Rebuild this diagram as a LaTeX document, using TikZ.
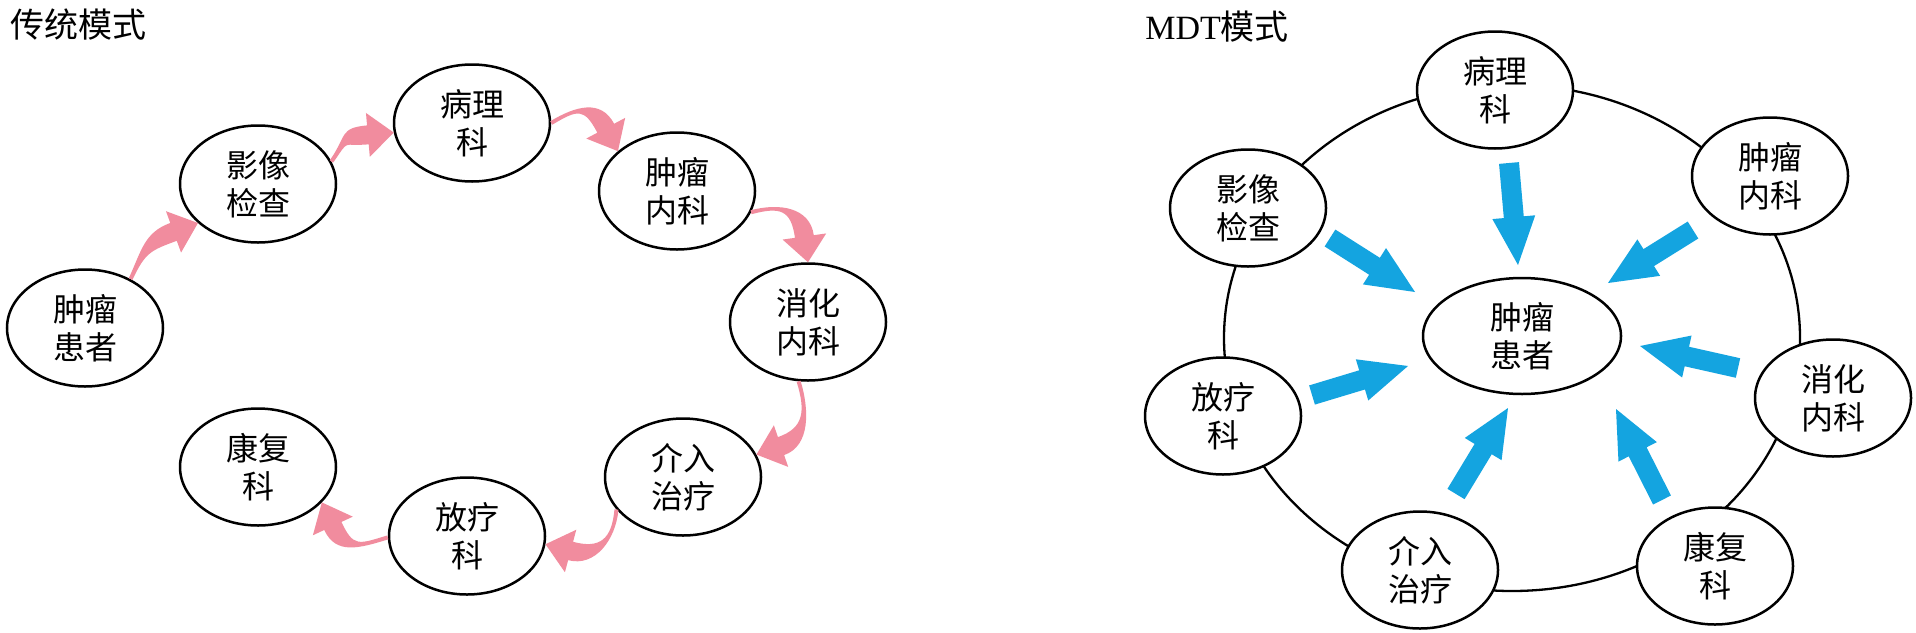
\documentclass[tikz,border=0pt]{standalone}
\usepackage{fontspec}
\setmainfont{Liberation Serif}
\newfontfamily\cjk{Noto Sans CJK SC}
\usetikzlibrary{calc,shapes.geometric}
\definecolor{pinkc}{RGB}{241,140,158}
\definecolor{bluec}{RGB}{20,164,224}
% tapered curved arrow: tail, tip, tail angle, head angle
\newcommand\pinkarrow[4]{%
  \coordinate (pb) at ($(#2)+(#4+180:13pt)$);
  \fill[pinkc] ($(#1)+(#3+90:1pt)$) .. controls ($(#1)+(#3:15pt)+(#3+90:1pt)$) and ($(pb)+(#4+180:14pt)+(#4+90:4.75pt)$) .. ($(pb)+(#4+90:4.75pt)$)
    -- ($(pb)+(#4+90:11pt)$) -- (#2) -- ($(pb)+(#4-90:11pt)$) -- ($(pb)+(#4-90:4.75pt)$)
    .. controls ($(pb)+(#4+180:14pt)+(#4-90:4.75pt)$) and ($(#1)+(#3:15pt)+(#3-90:1pt)$) .. ($(#1)+(#3-90:1pt)$) -- cycle;
}
% block arrow: tail, tip
\newcommand\bluearrow[2]{%
  \coordinate (bb) at ($(#2)!24pt!(#1)$);
  \fill[bluec] ($(#1)!5pt!90:(#2)$) -- ($(bb)!5pt!90:(#2)$) -- ($(bb)!10.75pt!90:(#2)$) -- (#2)
    -- ($(bb)!10.75pt!-90:(#2)$) -- ($(bb)!5pt!-90:(#2)$) -- ($(#1)!5pt!-90:(#2)$) -- cycle;
}
\tikzset{
  dept/.style={ellipse, draw, line width=1.25pt, fill=white, minimum width=78pt, minimum height=58.5pt,
    inner sep=0pt, align=center, font={\cjk\fontsize{16pt}{19pt}\selectfont}},
  ttl/.style={anchor=west, inner sep=0pt, font={\fontsize{17pt}{20pt}\selectfont}}
}
\begin{document}
\begin{tikzpicture}[x=0.5pt,y=-0.5pt]
\useasboundingbox (0,0) rectangle (1916,632);
\fill[white] (0,0) rectangle (1916,632);

% ---------- left: traditional ----------
\node[ttl] (t1) at (10,25) {\cjk 传统模式};
\node[dept] (A) at (85,328) {肿瘤\\患者};
\node[dept] (B) at (258,184) {影像\\检查};
\node[dept] (C) at (472,123) {病理\\科};
\node[dept] (D) at (677,191) {肿瘤\\内科};
\node[dept] (E) at (808,322) {消化\\内科};
\node[dept] (F) at (683,477) {介入\\治疗};
\node[dept] (G) at (467,536) {放疗\\科};
\node[dept] (H) at (258,467) {康复\\科};

\pinkarrow{A.47}{B.213}{65}{20}
\pinkarrow{B.17}{C.187}{55}{5}
\pinkarrow{C.0}{D.146}{31}{298}
\pinkarrow{D.344}{E.90}{15}{278}
\pinkarrow{E.261}{F.17}{287}{199}
\pinkarrow{F.206}{G.354}{265}{165}
\pinkarrow{G.181}{H.331}{197}{115}

% ---------- right: MDT ----------
\node[ttl] (t2) at (1145,27) {MDT{\cjk 模式}};
\draw[line width=1.15pt] (1512,338) ellipse [x radius=288, y radius=253];
\node[dept] (P) at (1495,90) {病理\\科};
\node[dept] (I) at (1248,208) {影像\\检查};
\node[dept] (R) at (1223,416) {放疗\\科};
\node[dept] (J) at (1420,570) {介入\\治疗};
\node[dept] (K) at (1715,566) {康复\\科};
\node[dept] (X) at (1833,398) {消化\\内科};
\node[dept] (O) at (1770,176) {肿瘤\\内科};
\node[dept, minimum width=99pt, minimum height=58pt] (Z) at (1522,336) {肿瘤\\患者};

\coordinate (p1) at (1509,163); \coordinate (q1) at (1518,265);
\coordinate (p2) at (1693,230); \coordinate (q2) at (1608,283);
\coordinate (p3) at (1738,368); \coordinate (q3) at (1640,346);
\coordinate (p4) at (1662,500); \coordinate (q4) at (1616,409);
\coordinate (p5) at (1456,494); \coordinate (q5) at (1508,408);
\coordinate (p6) at (1312,395); \coordinate (q6) at (1408,366);
\coordinate (p7) at (1330,238); \coordinate (q7) at (1415,292);
\bluearrow{p1}{q1}
\bluearrow{p2}{q2}
\bluearrow{p3}{q3}
\bluearrow{p4}{q4}
\bluearrow{p5}{q5}
\bluearrow{p6}{q6}
\bluearrow{p7}{q7}
\end{tikzpicture}
\end{document}
